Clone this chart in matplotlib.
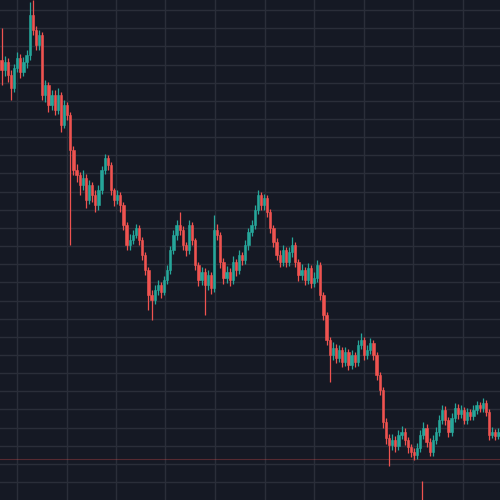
import numpy as np
import matplotlib.pyplot as plt

# candle data (price units)
first_open = 440
closes = [430, 438, 425, 412, 432, 442, 428, 438, 445, 485, 470, 455, 465, 405, 415, 395,
          405, 390, 405, 375, 395, 385, 350, 330, 325, 315, 322, 300, 315, 305, 295, 310,
          330, 342, 335, 310, 300, 305, 295, 275, 255, 260, 265, 272, 260, 245, 230, 205,
          200, 210, 215, 208, 220, 230, 250, 265, 275, 270, 255, 250, 275, 260, 235, 220,
          228, 215, 225, 212, 270, 265, 238, 222, 228, 220, 238, 230, 245, 240, 255, 268,
          275, 290, 305, 295, 302, 288, 272, 258, 245, 238, 250, 238, 248, 255, 238, 225,
          230, 220, 232, 217, 222, 235, 205, 185, 160, 145, 152, 142, 150, 138, 148, 135,
          145, 138, 155, 160, 145, 150, 157, 145, 125, 110, 78, 62, 55, 60, 54, 65,
          68, 60, 53, 48, 45, 52, 65, 72, 58, 48, 60, 68, 80, 90, 80, 68,
          82, 92, 86, 90, 80, 88, 84, 90, 95, 92, 97, 88, 65, 68, 64, 68]
highs = [472, 444, 442, 430, 436, 448, 446, 443, 450, 498, 500, 474, 470, 468, 420, 418,
         410, 410, 412, 408, 400, 398, 388, 354, 336, 328, 330, 326, 320, 318, 310, 315,
         334, 346, 345, 338, 312, 310, 308, 298, 278, 266, 270, 276, 275, 263, 248, 233,
         210, 215, 220, 218, 224, 235, 254, 270, 280, 288, 274, 258, 280, 278, 262, 238,
         233, 232, 230, 228, 285, 276, 268, 242, 234, 232, 244, 241, 250, 248, 260, 272,
         280, 295, 310, 308, 306, 305, 291, 275, 262, 250, 255, 253, 253, 263, 258, 241,
         236, 233, 237, 235, 228, 240, 238, 208, 188, 163, 158, 156, 155, 153, 153, 151,
         150, 148, 160, 167, 163, 155, 162, 160, 148, 128, 113, 82, 66, 66, 64, 70,
         74, 72, 63, 56, 52, 57, 70, 78, 76, 62, 65, 73, 85, 95, 94, 83,
         87, 97, 96, 95, 93, 92, 91, 95, 99, 98, 102, 100, 91, 73, 71, 72]
lows = [415, 424, 418, 400, 408, 428, 422, 424, 432, 440, 465, 450, 450, 400, 398, 388,
        390, 385, 386, 368, 372, 380, 255, 325, 318, 305, 310, 292, 296, 298, 288, 290,
        306, 326, 330, 305, 294, 296, 288, 270, 250, 250, 256, 262, 255, 240, 225, 190,
        180, 196, 205, 202, 205, 216, 226, 246, 260, 265, 250, 244, 246, 255, 230, 214,
        215, 185, 210, 206, 208, 260, 232, 216, 217, 214, 216, 224, 226, 235, 236, 250,
        264, 271, 286, 290, 290, 283, 267, 253, 240, 233, 234, 233, 234, 243, 233, 219,
        220, 215, 216, 212, 213, 218, 200, 180, 155, 118, 140, 137, 138, 133, 134, 130,
        131, 133, 134, 151, 140, 141, 146, 140, 120, 105, 72, 56, 34, 50, 48, 50,
        61, 55, 47, 43, 40, 41, 48, 61, 53, 44, 44, 56, 64, 76, 75, 63,
        64, 78, 81, 82, 76, 76, 80, 80, 86, 88, 88, 84, 60, 62, 60, 61]

# stray wick near the bottom and faint price line
spike_index = 134.5
spike_range = [0, 19]
price_line = 41

up_color = '#26a69a'
down_color = '#ef5350'
bg_color = '#151924'
grid_color = '#2a2e39'

closes = np.array(closes, dtype=float)
opens = np.concatenate([[first_open], closes[:-1]])
highs = np.array(highs, dtype=float)
lows = np.array(lows, dtype=float)
idx = np.arange(len(closes))
colors = np.where(closes >= opens, up_color, down_color)

fig = plt.figure(figsize=(5, 5), dpi=100, facecolor=bg_color)
ax = fig.add_axes([0, 0, 1, 1], facecolor=bg_color)

ax.vlines(idx, lows, highs, colors=colors, linewidth=0.9, zorder=3)
body = np.maximum(np.abs(closes - opens), 1.5)
ax.bar(idx, body, bottom=np.minimum(opens, closes), width=0.75, color=colors,
       edgecolor=colors, linewidth=0.4, zorder=4)

ax.vlines(spike_index, spike_range[0], spike_range[1], colors=down_color, linewidth=0.9, zorder=3)
ax.axhline(price_line, color=down_color, alpha=0.3, linewidth=0.8, zorder=2)

ax.set_xlim(-0.5, len(closes) - 0.5)
ax.set_ylim(0, 500)
ax.set_xticks(np.arange(4.94, len(closes), 15.84))
ax.set_yticks(np.arange(18, 500, 18.15))
ax.grid(True, color=grid_color, linewidth=1.0, zorder=0)
ax.tick_params(left=False, bottom=False, labelleft=False, labelbottom=False)
for s in ax.spines.values():
    s.set_visible(False)

fig.savefig('out.png', dpi=100, facecolor=bg_color)
